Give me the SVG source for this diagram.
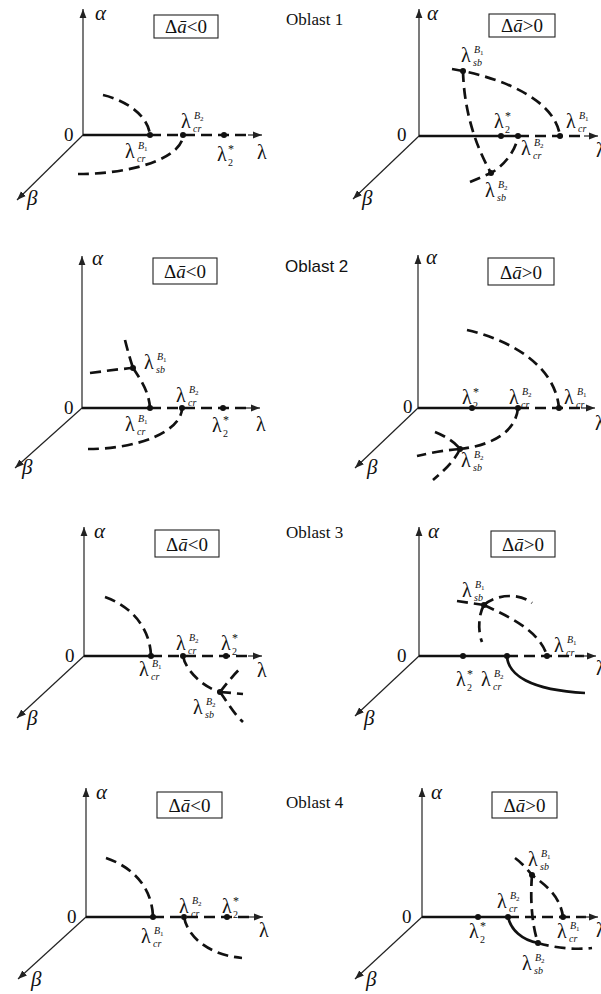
<svg xmlns="http://www.w3.org/2000/svg" width="601" height="994" viewBox="0 0 601 994">
<defs>
<marker id="ah" viewBox="0 0 10 10" refX="10" refY="5" markerWidth="9" markerHeight="9" markerUnits="userSpaceOnUse" orient="auto"><path d="M0,1.2 L10,5 L0,8.8 z" fill="#222"/></marker>
<style>
.ax{stroke:#222;stroke-width:1.2;fill:none}
.ar{stroke:#222;stroke-width:1.2;fill:none;marker-end:url(#ah)}
.th{stroke:#111;stroke-width:2.7;fill:none}
.da{stroke:#111;stroke-width:2.7;fill:none;stroke-dasharray:11 6}
.pt{fill:#111}
.bx{fill:#fff;stroke:#222;stroke-width:1.1}
text{font-family:"Liberation Serif","Times New Roman",serif;fill:#111}
.lam{font-size:20px}
.s{font-size:10px;font-style:italic}
.n{font-size:7px;font-style:normal}
.st{font-size:12px}
.two{font-size:10px}
.gr{font-size:21px;font-style:italic}
.zero{font-size:19px}
.bt{font-size:19px;text-anchor:middle}
.ttl{font-size:17px}
.sans{font-family:"Liberation Sans",Arial,sans-serif;font-size:17px}
</style>
</defs>
<rect width="601" height="994" fill="#fff"/>

<!-- Oblast titles -->
<text class="ttl" x="286" y="25">Oblast 1</text>
<text class="sans" x="285" y="272">Oblast 2</text>
<text class="ttl" x="286" y="538">Oblast 3</text>
<text class="ttl" x="286" y="808">Oblast 4</text>

<!-- ===== Oblast 1, negative ===== -->
<g id="p1n">
 <g id="p1n-axes">
  <line class="ar" x1="83" y1="135" x2="83" y2="9"/>
  <line class="ar" x1="83" y1="135" x2="17" y2="200"/>
  <line class="th" x1="83" y1="135" x2="150" y2="135"/>
  <line class="da" x1="150" y1="135" x2="250" y2="135"/>
  <line class="ar" x1="248" y1="135" x2="262" y2="135"/>
 </g>
 <g id="p1n-curves">
  <path class="da" d="M103,95 C125,100 148,115 150,135"/>
  <path class="da" d="M78,174 A105,39 0 0 0 183,135"/>
 </g>
 <g id="p1n-points"><circle class="pt" cx="150" cy="135" r="3"/><circle class="pt" cx="183" cy="135" r="3"/><circle class="pt" cx="224" cy="135" r="3"/></g>
 <g id="p1n-labels">
  <text class="gr" x="95" y="20">α</text><text class="zero" x="64" y="141">0</text><text class="gr" x="27" y="205">β</text>
  <rect class="bx" x="154" y="15" width="64" height="23"/><text class="bt" x="186" y="33">Δ<tspan font-style="italic">ā</tspan>&lt;0</text>
  <text class="lam" x="125" y="158">λ</text><text class="s" x="137" y="162">cr</text><text class="s" x="138" y="149">B<tspan class="n" dy="2">1</tspan></text>
  <text class="lam" x="181" y="128">λ</text><text class="s" x="193" y="132">cr</text><text class="s" x="194" y="119">B<tspan class="n" dy="2">2</tspan></text>
  <text class="lam" x="217" y="161">λ</text><text class="st" x="228" y="153">*</text><text class="two" x="228" y="166">2</text>
  <text class="lam" x="257" y="159">λ</text>
 </g>
</g>

<!-- ===== Oblast 1, positive ===== -->
<g id="p1p">
 <g id="p1p-axes">
  <line class="ar" x1="419" y1="136" x2="419" y2="9"/>
  <line class="ar" x1="419" y1="136" x2="353" y2="199"/>
  <line class="th" x1="419" y1="136" x2="518" y2="136"/>
  <line class="da" x1="518" y1="136" x2="586" y2="136"/>
  <line class="ar" x1="584" y1="136" x2="598" y2="136"/>
 </g>
 <g id="p1p-curves">
  <path class="da" d="M452,69 L463,71 C505,80 555,100 560,136"/>
  <path class="da" d="M463,71 C464,110 475,145 491,173"/>
  <path class="da" d="M470,182 L491,173 C505,165 516,150 518,136"/>
 </g>
 <g id="p1p-points"><circle class="pt" cx="501" cy="136" r="3"/><circle class="pt" cx="518" cy="136" r="3"/><circle class="pt" cx="560" cy="136" r="3"/><circle class="pt" cx="463" cy="71" r="3"/><circle class="pt" cx="491" cy="173" r="3"/></g>
 <g id="p1p-labels">
  <text class="gr" x="427" y="20">α</text><text class="zero" x="397" y="141">0</text><text class="gr" x="362" y="205">β</text>
  <rect class="bx" x="489" y="14" width="66" height="23"/><text class="bt" x="522" y="32">Δ<tspan font-style="italic">ā</tspan>&gt;0</text>
  <text class="lam" x="461" y="62">λ</text><text class="s" x="473" y="66">sb</text><text class="s" x="474" y="53">B<tspan class="n" dy="2">1</tspan></text>
  <text class="lam" x="494" y="128">λ</text><text class="st" x="505" y="120">*</text><text class="two" x="505" y="133">2</text>
  <text class="lam" x="521" y="155">λ</text><text class="s" x="533" y="159">cr</text><text class="s" x="534" y="146">B<tspan class="n" dy="2">2</tspan></text>
  <text class="lam" x="566" y="128">λ</text><text class="s" x="578" y="132">cr</text><text class="s" x="579" y="119">B<tspan class="n" dy="2">1</tspan></text>
  <text class="lam" x="485" y="197">λ</text><text class="s" x="497" y="201">sb</text><text class="s" x="498" y="188">B<tspan class="n" dy="2">2</tspan></text>
  <text class="lam" x="596" y="157">λ</text>
 </g>
</g>

<!-- ===== Oblast 2, negative ===== -->
<g id="p2n">
 <g id="p2n-axes">
  <line class="ar" x1="82" y1="408" x2="82" y2="256"/>
  <line class="ar" x1="82" y1="408" x2="15" y2="468"/>
  <line class="th" x1="82" y1="408" x2="150" y2="408"/>
  <line class="da" x1="150" y1="408" x2="248" y2="408"/>
  <line class="ar" x1="246" y1="408" x2="260" y2="408"/>
 </g>
 <g id="p2n-curves">
  <path class="da" d="M125,340 C128,352 131,362 133,368"/>
  <path class="da" d="M90,373 C105,371 120,369 133,368"/>
  <path class="da" d="M133,368 C141,380 149,392 150,408"/>
  <path class="da" d="M88,449 A94,41 0 0 0 182,408"/>
 </g>
 <g id="p2n-points"><circle class="pt" cx="150" cy="408" r="3"/><circle class="pt" cx="182" cy="408" r="3"/><circle class="pt" cx="223" cy="408" r="3"/><circle class="pt" cx="133" cy="368" r="3"/></g>
 <g id="p2n-labels">
  <text class="gr" x="92" y="265">α</text><text class="zero" x="64" y="414">0</text><text class="gr" x="22" y="474">β</text>
  <rect class="bx" x="153" y="258" width="64" height="26"/><text class="bt" x="185" y="278">Δ<tspan font-style="italic">ā</tspan>&lt;0</text>
  <text class="lam" x="144" y="369">λ</text><text class="s" x="156" y="373">sb</text><text class="s" x="157" y="360">B<tspan class="n" dy="2">1</tspan></text>
  <text class="lam" x="176" y="402">λ</text><text class="s" x="188" y="406">cr</text><text class="s" x="189" y="393">B<tspan class="n" dy="2">2</tspan></text>
  <text class="lam" x="125" y="431">λ</text><text class="s" x="137" y="435">cr</text><text class="s" x="138" y="422">B<tspan class="n" dy="2">1</tspan></text>
  <text class="lam" x="212" y="432">λ</text><text class="st" x="223" y="424">*</text><text class="two" x="223" y="437">2</text>
  <text class="lam" x="256" y="431">λ</text>
 </g>
</g>

<!-- ===== Oblast 2, positive ===== -->
<g id="p2p">
 <g id="p2p-axes">
  <line class="ar" x1="418" y1="408" x2="418" y2="255"/>
  <line class="ar" x1="418" y1="408" x2="355" y2="468"/>
  <line class="th" x1="418" y1="408" x2="518" y2="408"/>
  <line class="da" x1="518" y1="408" x2="583" y2="408"/>
  <line class="ar" x1="581" y1="408" x2="595" y2="408"/>
 </g>
 <g id="p2p-curves">
  <path class="da" d="M467,330 C510,340 555,365 559,408"/>
  <path class="da" d="M518,408 C516,430 495,445 460,449"/>
  <path class="da" d="M460,449 C445,450 430,453 417,456"/>
  <path class="da" d="M435,432 C445,436 455,442 460,449"/>
  <path class="da" d="M460,449 C455,460 445,470 433,480"/>
 </g>
 <g id="p2p-points"><circle class="pt" cx="472" cy="408" r="3"/><circle class="pt" cx="518" cy="408" r="3"/><circle class="pt" cx="559" cy="408" r="3"/><circle class="pt" cx="460" cy="449" r="3"/></g>
 <g id="p2p-labels">
  <text class="gr" x="426" y="264">α</text><text class="zero" x="403" y="413">0</text><text class="gr" x="367" y="474">β</text>
  <rect class="bx" x="488" y="258" width="66" height="27"/><text class="bt" x="521" y="279">Δ<tspan font-style="italic">ā</tspan>&gt;0</text>
  <text class="lam" x="462" y="404">λ</text><text class="st" x="473" y="396">*</text><text class="two" x="473" y="409">2</text>
  <text class="lam" x="509" y="404">λ</text><text class="s" x="521" y="408">cr</text><text class="s" x="522" y="395">B<tspan class="n" dy="2">2</tspan></text>
  <text class="lam" x="564" y="404">λ</text><text class="s" x="576" y="408">cr</text><text class="s" x="577" y="395">B<tspan class="n" dy="2">1</tspan></text>
  <text class="lam" x="461" y="467">λ</text><text class="s" x="473" y="471">sb</text><text class="s" x="474" y="458">B<tspan class="n" dy="2">2</tspan></text>
  <text class="lam" x="595" y="430">λ</text>
 </g>
</g>

<!-- ===== Oblast 3, negative ===== -->
<g id="p3n">
 <g id="p3n-axes">
  <line class="ar" x1="84" y1="656" x2="84" y2="527"/>
  <line class="ar" x1="84" y1="656" x2="17" y2="718"/>
  <line class="th" x1="84" y1="656" x2="151" y2="656"/>
  <line class="da" x1="151" y1="656" x2="250" y2="656"/>
  <line class="ar" x1="248" y1="656" x2="262" y2="656"/>
 </g>
 <g id="p3n-curves">
  <path class="da" d="M105,597 C128,605 150,625 151,656"/>
  <path class="da" d="M183,656 C186,672 205,688 220,692"/>
  <path class="da" d="M220,692 C227,683 235,673 242,667"/>
  <path class="da" d="M220,692 L243,694"/>
  <path class="da" d="M220,692 C226,700 234,714 243,722"/>
 </g>
 <g id="p3n-points"><circle class="pt" cx="151" cy="656" r="3"/><circle class="pt" cx="183" cy="656" r="3"/><circle class="pt" cx="226" cy="656" r="3"/><circle class="pt" cx="220" cy="692" r="3"/></g>
 <g id="p3n-labels">
  <text class="gr" x="94" y="538">α</text><text class="zero" x="65" y="662">0</text><text class="gr" x="27" y="725">β</text>
  <rect class="bx" x="155" y="530" width="64" height="27"/><text class="bt" x="187" y="551">Δ<tspan font-style="italic">ā</tspan>&lt;0</text>
  <text class="lam" x="139" y="676">λ</text><text class="s" x="151" y="680">cr</text><text class="s" x="152" y="667">B<tspan class="n" dy="2">1</tspan></text>
  <text class="lam" x="176" y="650">λ</text><text class="s" x="188" y="654">cr</text><text class="s" x="189" y="641">B<tspan class="n" dy="2">2</tspan></text>
  <text class="lam" x="221" y="650">λ</text><text class="st" x="232" y="642">*</text><text class="two" x="232" y="655">2</text>
  <text class="lam" x="193" y="714">λ</text><text class="s" x="205" y="718">sb</text><text class="s" x="206" y="705">B<tspan class="n" dy="2">2</tspan></text>
  <text class="lam" x="257" y="677">λ</text>
 </g>
</g>

<!-- ===== Oblast 3, positive ===== -->
<g id="p3p">
 <g id="p3p-axes">
  <line class="ar" x1="419" y1="656" x2="419" y2="527"/>
  <line class="ar" x1="419" y1="656" x2="355" y2="716"/>
  <line class="th" x1="419" y1="656" x2="507" y2="656"/>
  <line class="da" x1="507" y1="656" x2="584" y2="656"/>
  <line class="ar" x1="582" y1="656" x2="596" y2="656"/>
 </g>
 <g id="p3p-curves">
  <path class="th" d="M507,656 C508,675 530,690 585,693"/>
  <path class="da" d="M457,601 L484,605"/>
  <path class="da" d="M484,605 C495,595 518,592 532,603"/>
  <path class="da" d="M484,605 C505,615 540,630 547,656"/>
  <path class="da" d="M484,605 C478,615 478,632 482,642"/>
 </g>
 <g id="p3p-points"><circle class="pt" cx="463" cy="656" r="3"/><circle class="pt" cx="507" cy="656" r="3"/><circle class="pt" cx="547" cy="656" r="3"/><circle class="pt" cx="484" cy="605" r="3"/></g>
 <g id="p3p-labels">
  <text class="gr" x="428" y="538">α</text><text class="zero" x="397" y="662">0</text><text class="gr" x="364" y="725">β</text>
  <rect class="bx" x="491" y="531" width="64" height="26"/><text class="bt" x="523" y="551">Δ<tspan font-style="italic">ā</tspan>&gt;0</text>
  <text class="lam" x="462" y="597">λ</text><text class="s" x="474" y="601">sb</text><text class="s" x="475" y="588">B<tspan class="n" dy="2">1</tspan></text>
  <text class="lam" x="554" y="652">λ</text><text class="s" x="566" y="656">cr</text><text class="s" x="567" y="643">B<tspan class="n" dy="2">1</tspan></text>
  <text class="lam" x="456" y="686">λ</text><text class="st" x="467" y="678">*</text><text class="two" x="467" y="691">2</text>
  <text class="lam" x="481" y="686">λ</text><text class="s" x="493" y="690">cr</text><text class="s" x="494" y="677">B<tspan class="n" dy="2">2</tspan></text>
  <text class="lam" x="596" y="675">λ</text>
 </g>
</g>

<!-- ===== Oblast 4, negative ===== -->
<g id="p4n">
 <g id="p4n-axes">
  <line class="ar" x1="86" y1="917" x2="86" y2="788"/>
  <line class="ar" x1="86" y1="917" x2="18" y2="979"/>
  <line class="th" x1="86" y1="917" x2="153" y2="917"/>
  <line class="da" x1="153" y1="917" x2="251" y2="917"/>
  <line class="ar" x1="249" y1="917" x2="263" y2="917"/>
 </g>
 <g id="p4n-curves">
  <path class="da" d="M106,858 C130,866 152,885 153,917"/>
  <path class="da" d="M184,917 C188,938 210,955 242,958"/>
 </g>
 <g id="p4n-points"><circle class="pt" cx="153" cy="917" r="3"/><circle class="pt" cx="184" cy="917" r="3"/><circle class="pt" cx="227" cy="917" r="3"/></g>
 <g id="p4n-labels">
  <text class="gr" x="96" y="799">α</text><text class="zero" x="67" y="923">0</text><text class="gr" x="31" y="986">β</text>
  <rect class="bx" x="157" y="792" width="65" height="26"/><text class="bt" x="189.5" y="812">Δ<tspan font-style="italic">ā</tspan>&lt;0</text>
  <text class="lam" x="141" y="943">λ</text><text class="s" x="153" y="947">cr</text><text class="s" x="154" y="934">B<tspan class="n" dy="2">1</tspan></text>
  <text class="lam" x="179" y="913">λ</text><text class="s" x="191" y="917">cr</text><text class="s" x="192" y="904">B<tspan class="n" dy="2">2</tspan></text>
  <text class="lam" x="222" y="913">λ</text><text class="st" x="233" y="905">*</text><text class="two" x="233" y="918">2</text>
  <text class="lam" x="259" y="937">λ</text>
 </g>
</g>

<!-- ===== Oblast 4, positive ===== -->
<g id="p4p">
 <g id="p4p-axes">
  <line class="ar" x1="422" y1="917" x2="422" y2="788"/>
  <line class="ar" x1="422" y1="917" x2="355" y2="979"/>
  <line class="th" x1="422" y1="917" x2="508" y2="917"/>
  <line class="da" x1="508" y1="917" x2="586" y2="917"/>
  <line class="ar" x1="584" y1="917" x2="598" y2="917"/>
 </g>
 <g id="p4p-curves">
  <path class="th" d="M508,917 C511,930 522,940 538,943"/>
  <path class="da" d="M538,943 C555,948 575,950 592,948"/>
  <path class="da" d="M532,875 C530,900 532,925 538,943"/>
  <path class="da" d="M515,858 C522,863 528,870 532,875 C545,885 560,895 563,917"/>
 </g>
 <g id="p4p-points"><circle class="pt" cx="478" cy="917" r="3"/><circle class="pt" cx="508" cy="917" r="3"/><circle class="pt" cx="563" cy="917" r="3"/><circle class="pt" cx="532" cy="875" r="3"/><circle class="pt" cx="538" cy="943" r="3"/></g>
 <g id="p4p-labels">
  <text class="gr" x="431" y="799">α</text><text class="zero" x="402" y="923">0</text><text class="gr" x="366" y="986">β</text>
  <rect class="bx" x="492" y="792" width="65" height="26"/><text class="bt" x="524.5" y="812">Δ<tspan font-style="italic">ā</tspan>&gt;0</text>
  <text class="lam" x="528" y="866">λ</text><text class="s" x="540" y="870">sb</text><text class="s" x="541" y="857">B<tspan class="n" dy="2">1</tspan></text>
  <text class="lam" x="497" y="908">λ</text><text class="s" x="509" y="912">cr</text><text class="s" x="510" y="899">B<tspan class="n" dy="2">2</tspan></text>
  <text class="lam" x="469" y="938">λ</text><text class="st" x="480" y="930">*</text><text class="two" x="480" y="943">2</text>
  <text class="lam" x="557" y="938">λ</text><text class="s" x="569" y="942">cr</text><text class="s" x="570" y="929">B<tspan class="n" dy="2">1</tspan></text>
  <text class="lam" x="522" y="970">λ</text><text class="s" x="534" y="974">sb</text><text class="s" x="535" y="961">B<tspan class="n" dy="2">2</tspan></text>
  <text class="lam" x="596" y="937">λ</text>
 </g>
</g>
</svg>
